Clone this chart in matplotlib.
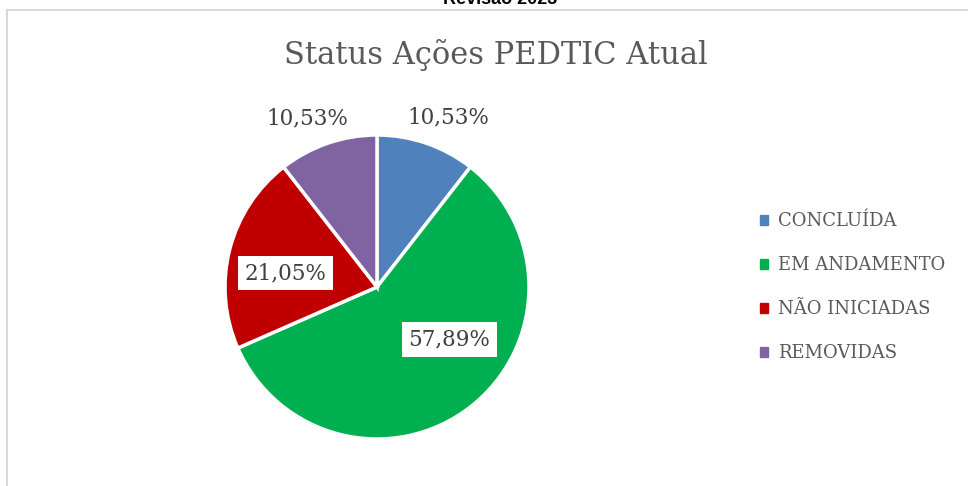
import matplotlib
matplotlib.use('Agg')
import matplotlib.pyplot as plt
from matplotlib.lines import Line2D
import numpy as np

categories = ['CONCLUÍDA', 'EM ANDAMENTO', 'NÃO INICIADAS', 'REMOVIDAS']
values = [10.53, 57.89, 21.05, 10.53]
labels = ['10,53%', '57,89%', '21,05%', '10,53%']
colors = ['#4f81bd', '#00b050', '#c00000', '#8064a2']

W, H = 968, 486
fig = plt.figure(figsize=(W / 100, H / 100), dpi=100)
serif = 'DejaVu Serif'
grey = '#595959'

# chart frame (top + left edges visible)
fig.add_artist(Line2D([7 / W, 1], [1 - 10 / H, 1 - 10 / H], color='#d9d9d9', lw=1.5))
fig.add_artist(Line2D([7 / W, 7 / W], [1 - 10 / H, 0], color='#d9d9d9', lw=1.5))

# cropped heading above the chart
fig.text(500 / W, 1 - 4 / H, 'Revisão 2023', ha='center', va='baseline',
         fontsize=13, fontweight='bold', family='Liberation Sans', color='black')

fig.text(496 / W, 1 - 55 / H, 'Status Ações PEDTIC Atual', ha='center', va='center',
         fontsize=22, family=serif, color=grey)

cx, cy, r = 377, 486 - 287, 152
ax = fig.add_axes([(cx - r) / W, (cy - r) / H, 2 * r / W, 2 * r / H])
wedges, _ = ax.pie(values, colors=colors, startangle=90, counterclock=False,
                   wedgeprops=dict(edgecolor='white', linewidth=2.5))
ax.set_xlim(-1, 1)
ax.set_ylim(-1, 1)
ax.set_aspect('equal')

# label placement: (distance, angle offset in degrees, boxed)
place = [(1.21, -4, False), (0.59, 16, True), (0.61, 5.5, True), (1.2, 3.5, False)]
for w, lab, (d, off, boxed) in zip(wedges, labels, place):
    ang = np.deg2rad((w.theta1 + w.theta2) / 2 + off)
    kw = dict(ha='center', va='center', fontsize=15.5, family=serif, color='#404040')
    if boxed:
        kw['bbox'] = dict(boxstyle='square,pad=0.3', fc='white', ec='none')
    ax.text(d * np.cos(ang), d * np.sin(ang), lab, **kw)

handles = [plt.Rectangle((0, 0), 1, 1, color=c) for c in colors]
leg = fig.legend(handles, categories, loc='upper left', bbox_to_anchor=(744 / W, 1 - 196 / H),
                 frameon=False, handlelength=0.45, handleheight=0.45, handletextpad=0.55,
                 labelspacing=1.44, prop={'family': serif, 'size': 13})
for t in leg.get_texts():
    t.set_color(grey)

fig.savefig('out.png', dpi=100, facecolor='white')
